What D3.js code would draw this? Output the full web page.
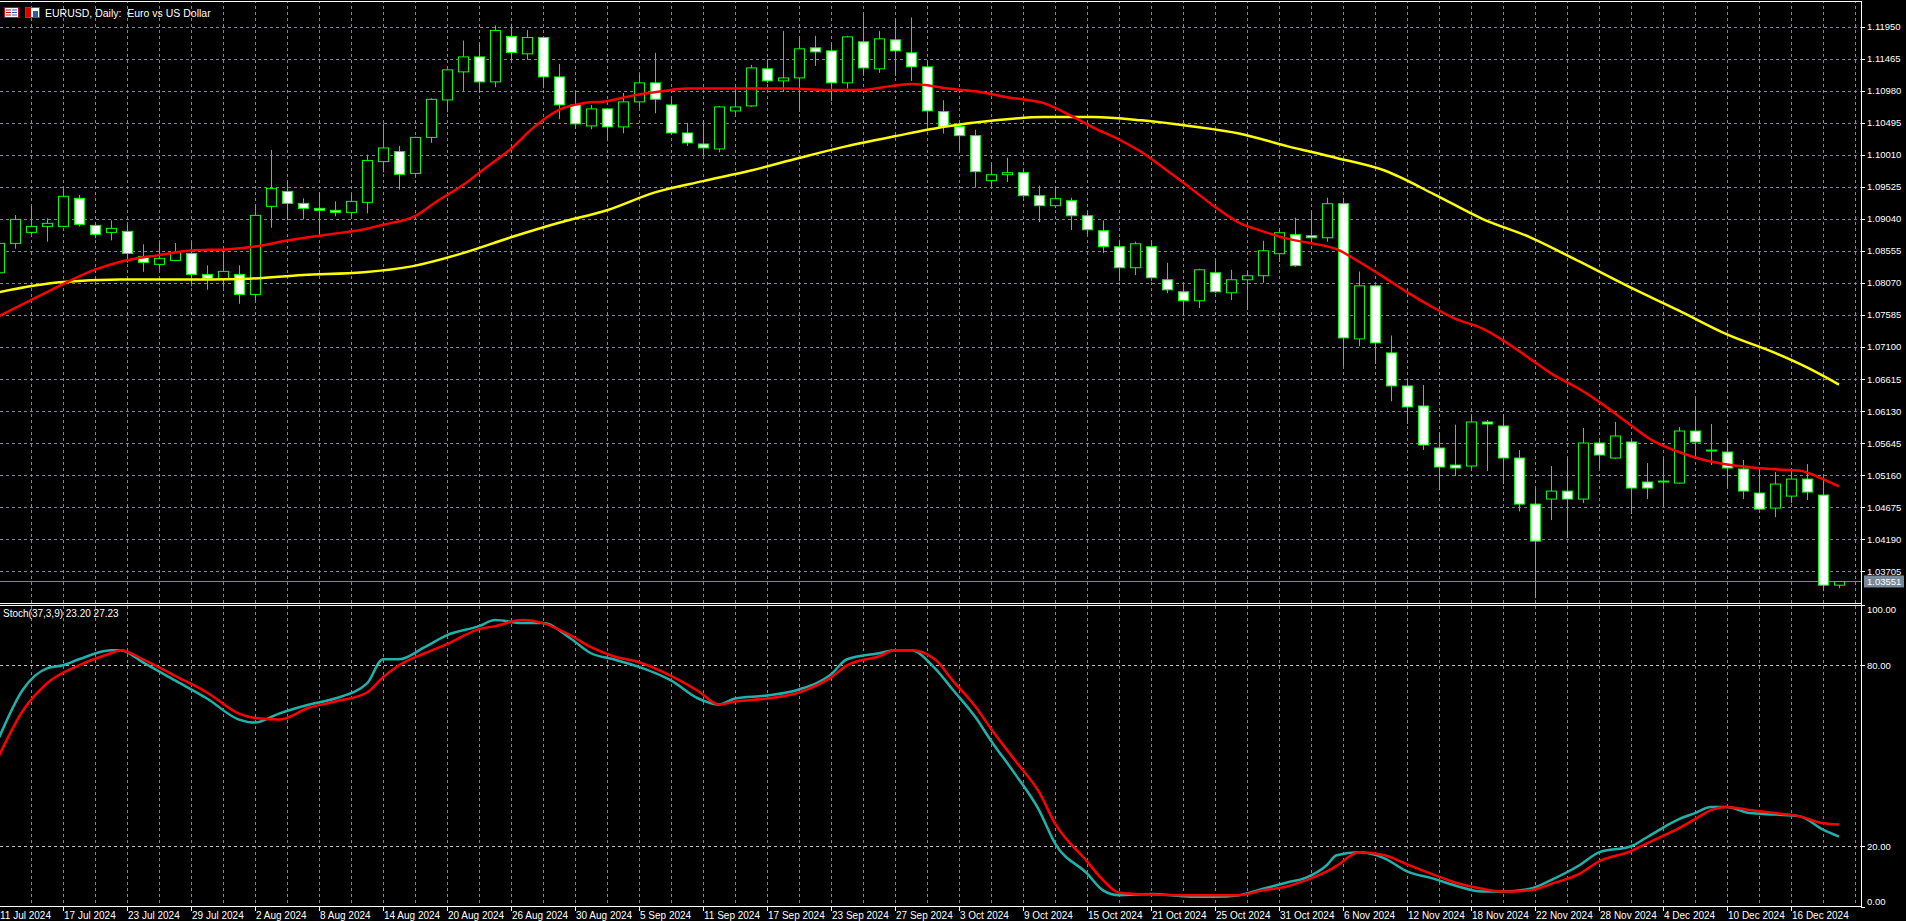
<!DOCTYPE html>
<html><head><meta charset="utf-8">
<script src="https://cdn.jsdelivr.net/npm/d3@7"></script>
<style>html,body{margin:0;padding:0;background:#000;overflow:hidden}svg{display:block}</style>
</head><body><svg id="c" width="1906" height="921"></svg>
<script>
// ---- DATA ----
const startDate = "2024-07-11";
const opens  = [1.08223,1.08668,1.08834,1.08925,1.08925,1.0935,1.0894,1.08834,1.0885,1.08471,1.0835,1.0841,1.08516,1.08198,1.08122,1.08198,1.07895,1.09228,1.09455,1.09273,1.09198,1.09168,1.09137,1.09289,1.09905,1.10057,1.09727,1.10272,1.10839,1.11263,1.1149,1.11112,1.11799,1.11536,1.11784,1.11187,1.10763,1.10445,1.10703,1.1043,1.10809,1.11097,1.10763,1.10339,1.10172,1.10097,1.10672,1.10748,1.11309,1.11127,1.11172,1.11627,1.11581,1.11097,1.11718,1.11309,1.11748,1.11551,1.11339,1.10662,1.10435,1.10298,1.09617,1.09707,1.09738,1.09389,1.09238,1.09314,1.09086,1.08859,1.08617,1.08299,1.08617,1.08117,1.07935,1.07799,1.08223,1.0792,1.08117,1.08178,1.08511,1.08799,1.08783,1.08753,1.09268,1.07222,1.08025,1.0701,1.0651,1.06207,1.05571,1.05313,1.05298,1.05965,1.05904,1.05419,1.04722,1.04798,1.04919,1.04798,1.05646,1.05419,1.05662,1.05056,1.05056,1.0504,1.05828,1.05525,1.0551,1.05253,1.04889,1.04662,1.04843,1.05101,1.04859,1.03495];
const highs  = [1.08728,1.09097,1.09228,1.09046,1.09501,1.094,1.0895,1.09016,1.08956,1.08653,1.08683,1.08673,1.08683,1.08335,1.08501,1.08335,1.09248,1.10082,1.09627,1.0935,1.0944,1.09304,1.0941,1.1001,1.10481,1.10142,1.10282,1.10863,1.11309,1.11738,1.11687,1.11966,1.11991,1.11899,1.11794,1.11384,1.10955,1.10763,1.10713,1.10945,1.11223,1.11551,1.10895,1.10491,1.10536,1.10748,1.11046,1.11369,1.1146,1.11884,1.11778,1.11809,1.11687,1.11809,1.12142,1.11884,1.12051,1.12086,1.1143,1.10834,1.1048,1.10389,1.09874,1.09965,1.09783,1.09541,1.09521,1.09359,1.09162,1.09016,1.08723,1.08693,1.08708,1.08374,1.08056,1.08284,1.08405,1.08268,1.08253,1.08708,1.08874,1.09056,1.09147,1.09359,1.09359,1.08242,1.08035,1.07273,1.06616,1.06525,1.05813,1.05924,1.06061,1.05995,1.06086,1.05541,1.04965,1.05298,1.05434,1.05874,1.05692,1.05965,1.05692,1.05343,1.05434,1.05889,1.06313,1.05934,1.05692,1.05389,1.05268,1.05207,1.05237,1.05328,1.05131,1.03551];
const lows   = [1.08173,1.08587,1.08804,1.08693,1.08915,1.08925,1.08744,1.08713,1.08375,1.08238,1.08269,1.084,1.08016,1.07966,1.07996,1.07754,1.07794,1.08905,1.09016,1.09031,1.08804,1.09077,1.09077,1.09122,1.09743,1.0948,1.09661,1.10191,1.10652,1.10975,1.10945,1.11031,1.1142,1.11445,1.11016,1.10546,1.104,1.10395,1.10213,1.10334,1.10718,1.10637,1.10329,1.10142,1.10006,1.10046,1.10627,1.10733,1.11097,1.1096,1.10657,1.11354,1.10824,1.11011,1.11203,1.11248,1.11203,1.11127,1.10445,1.1033,1.1008,1.09511,1.09526,1.09596,1.09359,1.08991,1.09202,1.08869,1.08809,1.0852,1.08097,1.08188,1.08097,1.07915,1.07571,1.07688,1.07915,1.07809,1.07657,1.08071,1.08384,1.08314,1.08662,1.08693,1.06808,1.07111,1.06843,1.06278,1.05934,1.05541,1.04934,1.05147,1.05268,1.05222,1.05025,1.04611,1.03298,1.0448,1.04207,1.04737,1.05268,1.05404,1.04571,1.04798,1.04692,1.0503,1.0545,1.05313,1.04965,1.04798,1.04636,1.04525,1.04737,1.04783,1.03404,1.0345];
const closes = [1.08668,1.09031,1.08925,1.08971,1.0938,1.08956,1.08804,1.08895,1.08516,1.0838,1.08441,1.08531,1.08198,1.08138,1.08244,1.07895,1.09092,1.09501,1.09273,1.09198,1.09168,1.09137,1.09304,1.09921,1.10112,1.09713,1.10272,1.10848,1.11294,1.1149,1.11112,1.1189,1.11556,1.11784,1.11187,1.10763,1.10476,1.10703,1.1043,1.10809,1.11097,1.10849,1.10339,1.10188,1.10112,1.10733,1.10733,1.11323,1.11127,1.11172,1.11612,1.11566,1.11097,1.11793,1.11323,1.11763,1.11581,1.11339,1.10672,1.10435,1.10298,1.09753,1.09707,1.09738,1.09389,1.09238,1.09344,1.09086,1.08874,1.08617,1.08299,1.08662,1.08147,1.07965,1.07799,1.08268,1.07935,1.08117,1.08178,1.08556,1.08829,1.0833,1.08753,1.09268,1.07237,1.08025,1.07161,1.0651,1.06192,1.05616,1.05283,1.05268,1.05965,1.05934,1.05419,1.04722,1.04162,1.04919,1.04798,1.05646,1.05465,1.05752,1.04965,1.04965,1.05071,1.05828,1.05662,1.0554,1.05268,1.04919,1.04646,1.05025,1.05101,1.04904,1.03495,1.03551];
const maFast = [[0,1.07566],[3,1.0793],[6,1.0827],[7.6,1.0839],[10,1.0849],[12,1.0856],[14.4,1.0858],[16,1.0862],[18,1.0871],[20.5,1.088],[23,1.0889],[24,1.0895],[26,1.0908],[27.4,1.0931],[29,1.0955],[30.4,1.0981],[32,1.101],[33.4,1.1042],[35,1.1069],[36.5,1.1079],[38,1.1082],[39.5,1.109],[41.4,1.1097],[43,1.1101],[47,1.1101],[49.4,1.1101],[51.7,1.1099],[54,1.1099],[55.5,1.1104],[57,1.1108],[58,1.1106],[59.3,1.1101],[61,1.1097],[63,1.1088],[65.3,1.1079],[67,1.106],[68.4,1.1042],[70,1.1024],[71.4,1.1005],[73,1.0977],[74.5,1.095],[76,1.0922],[77.5,1.0898],[79,1.0885],[80.5,1.0874],[82,1.0867],[83.6,1.0858],[85,1.0839],[86.6,1.0815],[88,1.0793],[89.7,1.0769],[91,1.0753],[92.7,1.0738],[94,1.072],[95.7,1.0692],[97,1.067],[98.8,1.0646],[100.3,1.0622],[101.8,1.0595],[103.3,1.0569],[105,1.0551],[106.4,1.054],[108,1.0532],[109.4,1.0528],[111,1.0525],[112.5,1.0523],[114,1.051],[115,1.0499]];
const maSlow = [[0,1.0793],[3.8,1.0808],[7.6,1.0812],[11.4,1.0812],[15.2,1.0813],[19,1.0819],[22.8,1.0823],[25.8,1.0832],[29,1.0852],[32,1.0876],[35,1.0898],[38,1.0917],[41,1.0944],[44,1.0961],[47,1.0977],[50,1.0996],[53,1.1014],[56,1.1029],[59.3,1.1044],[62.3,1.1053],[65.3,1.1058],[68.4,1.1058],[71.4,1.1053],[74.5,1.1044],[77.5,1.1033],[80.5,1.1014],[83.6,1.0996],[86.6,1.0977],[89.7,1.0941],[92.7,1.0904],[95.7,1.0876],[98.8,1.0839],[101.8,1.0802],[105,1.0765],[108,1.0729],[111,1.0701],[113,1.0679],[115,1.0653]];
const stochK = [[0,56],[1.5,72],[3,79],[4,80],[5,82],[7,85],[7.6,85],[9,81],[11,75],[13,69],[15,62],[16,61],[17.5,64],[19.4,67],[21,69],[23,74],[24,82],[25,82],[26.6,86],[28,90],[30,93],[31,95],[32.7,94],[34,94],[35.7,89],[37,84],[38.4,82],[40,79.5],[42,75],[43.7,69],[45,67],[46,69],[48,70],[50,72],[52,77],[53,82],[55,84],[56,85],[57,85],[58.5,79],[59.6,72],[61,63],[62,55],[63.5,44],[65,32],[66,21],[68,11],[69,5.4],[70,3.8],[72,4.2],[74.5,3.3],[76,3.3],[77.5,3.8],[79,5.9],[80.5,8],[81.7,9.6],[83,13.8],[83.6,17],[85,18],[86.6,16],[88,11.7],[89.7,9.2],[91,7],[92.7,5],[94,5],[95.7,5.9],[97,8.8],[98.8,13.8],[100,18],[102,20],[103,23],[105,29],[106,31],[107,33],[108,33],[109.4,31],[111,30.5],[112.5,30],[114,25.5],[115,23.2]];
const stochD = [[0,50],[1.5,65],[3,74],[5,80],[7,84],[7.6,85],[9,82],[11,76.5],[13,71],[15,64],[16,62.5],[17.5,62],[19.4,66],[21,68],[23,71],[24,76],[25,80],[26.6,84],[28,87],[30,92],[31,93],[32.7,95],[34,94],[35.7,90],[37,86],[38.4,83],[40,81],[42,76.5],[43.7,71.5],[45,67],[46,68],[48,69],[50,71],[52,76],[53,80],[55,83],[56,85],[57,85],[58.5,82],[59.6,75],[61,66.5],[62,59],[63.5,48.5],[65,38],[66,27.6],[68,15],[69,8.8],[70,4.6],[72,4],[74.5,3.8],[76,3.8],[77.5,3.8],[79,5.4],[80.5,6.7],[81.7,8.8],[83,11.7],[83.6,13.5],[85,18],[86.6,17],[88,14],[89.7,10.5],[91,8],[92.7,5.9],[94,5],[95.7,5.4],[97,7.5],[98.8,10.9],[100,15],[102,18.4],[103,21],[105,26],[106,29],[107,32],[108,33],[109.4,32],[111,31],[112.5,30],[114,27.6],[115,27.23]];
const priceTicks = [1.11950,1.11465,1.10980,1.10495,1.10010,1.09525,1.09040,1.08555,1.08070,1.07585,1.07100,1.06615,1.06130,1.05645,1.05160,1.04675,1.04190,1.03705];
const stochTicks = [100,80,20,0];
const lastPrice = 1.03551;
const titleText = "EURUSD, Daily:  Euro vs US Dollar";
const stochLabel = "Stoch(37,3,9) 23.20 27.23";

// categories: trading dates
const dates = [];
{ let d = new Date(startDate + "T00:00:00Z");
  while (dates.length < closes.length) { const w = d.getUTCDay(); if (w !== 0 && w !== 6) dates.push(new Date(d)); d.setUTCDate(d.getUTCDate() + 1); } }
const fmt = d3.utcFormat("%-d %b %Y");

// ---- LAYOUT ----
const svg = d3.select("#c");
const axX = 1861, mainTop = 2, mainBot = 603, stTop = 605, stBot = 906;
const x = d3.scaleLinear().domain([0, closes.length - 1]).range([-1, 1839]);
const y = d3.scaleLinear().domain([1.03705, 1.11950]).range([571.3, 26.5]);
const ys = d3.scaleLinear().domain([0, 100]).range([906.6, 605]);
const gridC = "#778899";
const font = "'Liberation Sans', Arial, sans-serif";

svg.append("rect").attr("width",1906).attr("height",921).attr("fill","#000");
const defs = svg.append("defs");
defs.append("clipPath").attr("id","cm").append("rect").attr("x",0).attr("y",mainTop).attr("width",axX).attr("height",mainBot-mainTop);
defs.append("clipPath").attr("id","cs").append("rect").attr("x",0).attr("y",stTop+1).attr("width",axX).attr("height",stBot-stTop-1);

// grid
const gm = svg.append("g").attr("clip-path","url(#cm)");
const gs = svg.append("g").attr("clip-path","url(#cs)");
const vIdx = d3.range(0, closes.length + 2, 2);
[gm, gs].forEach(g => g.selectAll(".v").data(vIdx).join("line")
  .attr("x1", d => Math.round(x(d)) + 0.5).attr("x2", d => Math.round(x(d)) + 0.5)
  .attr("y1", 0).attr("y2", 921).attr("stroke", gridC).attr("stroke-dasharray","3,3"));
gm.selectAll(".h").data(priceTicks).join("line").attr("x1",0).attr("x2",axX)
  .attr("y1", d => Math.round(y(d)) + 0.5).attr("y2", d => Math.round(y(d)) + 0.5)
  .attr("stroke", gridC).attr("stroke-dasharray","3,3");
gs.selectAll(".h").data([80,20]).join("line").attr("x1",0).attr("x2",axX)
  .attr("y1", d => Math.round(ys(d)) + 0.5).attr("y2", d => Math.round(ys(d)) + 0.5)
  .attr("stroke", "#c0c0c0").attr("stroke-dasharray","3,3");

// last price line
gm.append("line").attr("x1",0).attr("x2",axX).attr("y1",Math.round(y(lastPrice))+0.5).attr("y2",Math.round(y(lastPrice))+0.5).attr("stroke","#778899");

// candles
const idx = d3.range(closes.length);
const cg = gm.append("g");
cg.selectAll(".w").data(idx).join("line")
  .attr("x1", i => Math.round(x(i)) + 0.5).attr("x2", i => Math.round(x(i)) + 0.5)
  .attr("y1", i => y(highs[i])).attr("y2", i => y(lows[i])).attr("stroke","#00ff00").attr("stroke-width",1);
cg.selectAll(".b").data(idx).join("rect")
  .attr("x", i => Math.round(x(i)) - 4.5).attr("width", 10)
  .attr("y", i => y(Math.max(opens[i], closes[i])))
  .attr("height", i => Math.max(1, Math.abs(y(opens[i]) - y(closes[i]))))
  .attr("fill", i => closes[i] >= opens[i] ? "#000" : "#fff")
  .attr("stroke","#00ff00").attr("stroke-width",1);

// MAs
const lineP = d3.line().x(d => x(d[0])).y(d => y(d[1])).curve(d3.curveMonotoneX);
gm.append("path").attr("d", lineP(maSlow)).attr("fill","none").attr("stroke","#ffff00").attr("stroke-width",2.5);
gm.append("path").attr("d", lineP(maFast)).attr("fill","none").attr("stroke","#ff0000").attr("stroke-width",2.5);

// stoch
const lineS = d3.line().x(d => x(d[0])).y(d => ys(d[1])).curve(d3.curveMonotoneX);
gs.append("path").attr("d", lineS(stochK)).attr("fill","none").attr("stroke","#20b2aa").attr("stroke-width",2.5);
gs.append("path").attr("d", lineS(stochD)).attr("fill","none").attr("stroke","#ff0000").attr("stroke-width",2.5);

// frame lines
const W = "#ffffff";
svg.append("line").attr("x1",0).attr("x2",axX).attr("y1",1.5).attr("y2",1.5).attr("stroke",W);
svg.append("line").attr("x1",axX+0.5).attr("x2",axX+0.5).attr("y1",1).attr("y2",stBot+1).attr("stroke",W);
svg.append("line").attr("x1",0).attr("x2",axX).attr("y1",mainBot+0.5).attr("y2",mainBot+0.5).attr("stroke",W);
svg.append("line").attr("x1",0).attr("x2",axX).attr("y1",mainBot+2.5).attr("y2",mainBot+2.5).attr("stroke",W);
svg.append("line").attr("x1",0).attr("x2",axX).attr("y1",stBot+0.5).attr("y2",stBot+0.5).attr("stroke",W);

// price axis labels
const pa = svg.append("g");
pa.selectAll("line").data(priceTicks).join("line").attr("x1",axX).attr("x2",axX+4)
  .attr("y1", d => Math.round(y(d))+0.5).attr("y2", d => Math.round(y(d))+0.5).attr("stroke",W);
pa.selectAll("text").data(priceTicks).join("text").attr("x",axX+6).attr("y", d => y(d)+3.5)
  .attr("fill",W).attr("font-family",font).attr("font-size",9.5).text(d => d.toFixed(5));
// current price box
pa.append("rect").attr("x",axX+3).attr("y",y(lastPrice)-6).attr("width",40).attr("height",12).attr("fill","#778899");
pa.append("text").attr("x",axX+6).attr("y",y(lastPrice)+3.5).attr("fill","#fff").attr("font-family",font).attr("font-size",9.5).text(lastPrice.toFixed(5));

// stoch axis labels
const sa = svg.append("g");
sa.selectAll("line").data(stochTicks).join("line").attr("x1",axX).attr("x2",axX+4)
  .attr("y1", d => Math.round(ys(d))+0.5).attr("y2", d => Math.round(ys(d))+0.5).attr("stroke",W);
sa.selectAll("text").data(stochTicks).join("text").attr("x",axX+6)
  .attr("y", d => d === 100 ? ys(d)+8 : d === 0 ? ys(d)-2 : ys(d)+3.5)
  .attr("fill",W).attr("font-family",font).attr("font-size",9.5).text(d => d.toFixed(2));

// date axis
const dIdx = d3.range(0, closes.length, 4);
const da = svg.append("g");
da.selectAll("line").data(dIdx).join("line").attr("x1", i => Math.round(x(i))+0.5).attr("x2", i => Math.round(x(i))+0.5)
  .attr("y1", stBot).attr("y2", stBot+5).attr("stroke",W);
da.selectAll("text").data(dIdx).join("text").attr("x", i => Math.max(0, x(i)+1)).attr("y", 919)
  .attr("fill",W).attr("font-family",font).attr("font-size",10).text(i => fmt(dates[i]));

// title & icons
const tg = svg.append("g");
tg.append("rect").attr("x",4.5).attr("y",7.5).attr("width",14).attr("height",10).attr("fill","#fff").attr("stroke","#d00");
[10,12.5,15].forEach(yy => { tg.append("line").attr("x1",6).attr("x2",11).attr("y1",yy).attr("y2",yy).attr("stroke","#d00"); tg.append("line").attr("x1",12).attr("x2",17).attr("y1",yy).attr("y2",yy).attr("stroke","#2060c0"); });
tg.append("rect").attr("x",25.5).attr("y",7.5).attr("width",14).attr("height",10).attr("fill","#fff").attr("stroke","#2060c0");
tg.append("rect").attr("x",26).attr("y",8).attr("width",5).attr("height",9).attr("fill","#d00");
tg.append("rect").attr("x",33).attr("y",11).attr("width",5).attr("height",6).attr("fill","#2060c0");
tg.append("text").attr("x",45).attr("y",16.5).attr("fill","#fff").attr("font-family",font).attr("font-size",10.5).attr("xml:space","preserve").text(titleText);
svg.append("text").attr("x",3).attr("y",617).attr("fill","#fff").attr("font-family",font).attr("font-size",10).text(stochLabel);
</script></body></html>
